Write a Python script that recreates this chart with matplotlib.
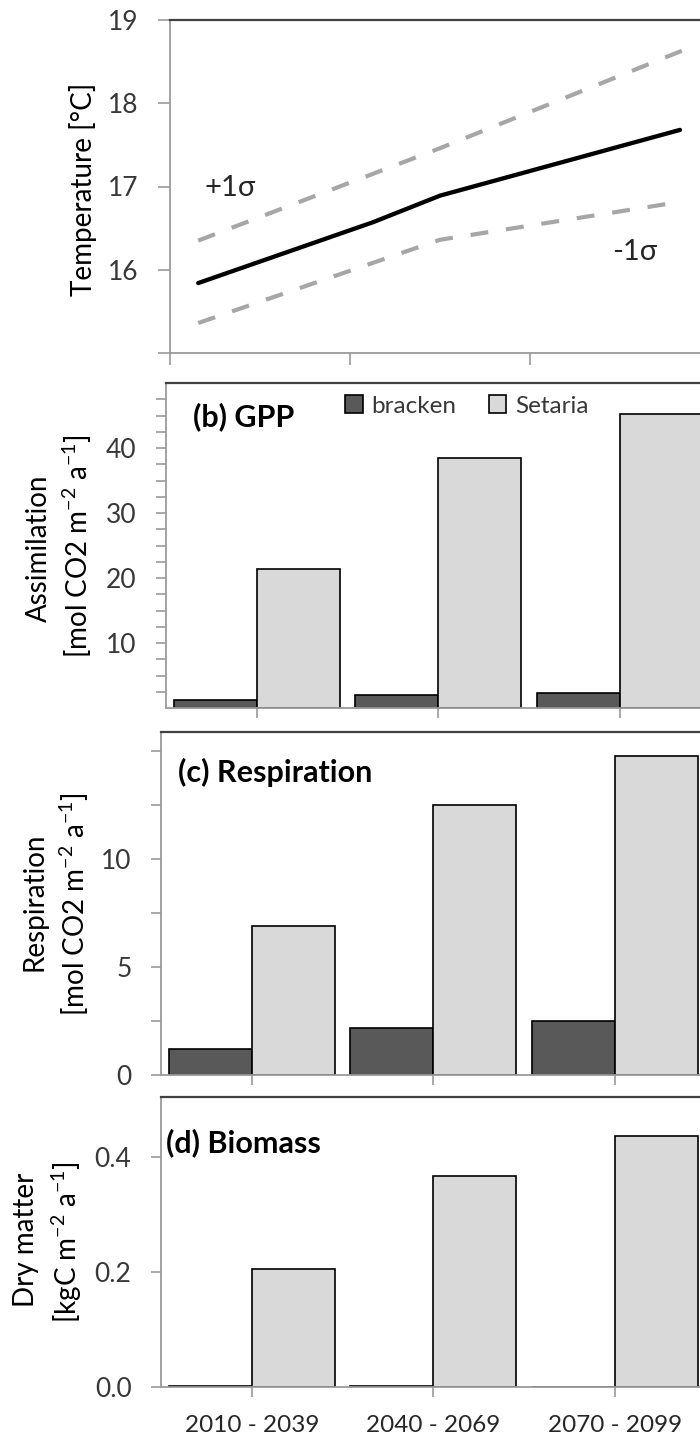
import matplotlib
matplotlib.use('Agg')
import matplotlib.pyplot as plt
from matplotlib.patches import Patch
from matplotlib.ticker import MultipleLocator, FixedLocator, FixedFormatter
import numpy as np

# ---------------- data ----------------
periods = ['2010 - 2039', '2040 - 2069', '2070 - 2099']

temp_years = [2014.7, 2043.8, 2055.0, 2095.0]
temp_mean = [15.84, 16.57, 16.89, 17.68]
upper_years = [2014.7, 2055.0, 2095.3]
temp_upper = [16.35, 17.46, 18.63]
lower_years = [2014.7, 2055.0, 2093.7]
temp_lower = [15.36, 16.36, 16.80]

gpp_bracken = [1.2, 2.0, 2.35]
gpp_setaria = [21.4, 38.4, 45.2]
resp_bracken = [1.2, 2.2, 2.5]
resp_setaria = [6.93, 12.5, 14.8]
bio_bracken = [0.002, 0.002, 0.0]
bio_setaria = [0.205, 0.367, 0.437]

series_names = ['bracken', 'Setaria']

# ---------------- style ----------------
plt.rcParams['font.family'] = ['Lato', 'DejaVu Sans']
plt.rcParams['mathtext.default'] = 'regular'

W, H, DPI = 700, 1436, 100
C_BR = '#595959'
C_SE = '#d9d9d9'
TICK_C = '#383838'
SPINE_LIGHT = '#9a9a9a'
SPINE_DARK = '#404040'
TICK_FS = 19
LAB_FS = 20
TITLE_FS = 22

fig = plt.figure(figsize=(W / DPI, H / DPI), dpi=DPI)
fig.patch.set_facecolor('white')


def add_ax(left, right, top, bottom):
    return fig.add_axes([left / W, 1 - bottom / H, (right - left) / W, (bottom - top) / H])


def style_ax(ax, ticklen=10):
    ax.spines['right'].set_visible(False)
    ax.spines['top'].set_color(SPINE_DARK)
    ax.spines['top'].set_linewidth(1.6)
    for s in ('left', 'bottom'):
        ax.spines[s].set_color(SPINE_LIGHT)
        ax.spines[s].set_linewidth(1.3)
    ax.tick_params(axis='both', which='both', direction='out', length=ticklen * 0.72,
                   width=1.2, color=SPINE_LIGHT, labelcolor=TICK_C, labelsize=TICK_FS)
    ax.tick_params(axis='y', which='both', pad=14)
    ax.tick_params(axis='x', which='both', pad=13)
    ax.set_facecolor('white')


# ---------------- panel (a) ----------------
ax_a = add_ax(170, 710, 20, 353)
style_ax(ax_a, ticklen=12)
ax_a.plot(upper_years, temp_upper, color='#a6a6a6', lw=3.0, dashes=(4.3, 4.3))
ax_a.plot(lower_years, temp_lower, color='#a6a6a6', lw=3.0, dashes=(4.3, 4.3))
ax_a.plot(temp_years, temp_mean, color='black', lw=3.1, solid_capstyle='round')
ax_a.set_xlim(2010, 2100)
ax_a.set_ylim(15, 19)
ax_a.xaxis.set_major_locator(FixedLocator([2010, 2040, 2070, 2100]))
ax_a.xaxis.set_major_formatter(FixedFormatter(['', '', '', '']))
ax_a.yaxis.set_major_locator(FixedLocator([15, 16, 17, 18, 19]))
ax_a.yaxis.set_major_formatter(FixedFormatter(['', '16', '17', '18', '19']))
ax_a.text(2015.8, 16.98, '+1σ', fontsize=21, color='#262626', ha='left', va='center')
ax_a.text(2083.7, 16.21, '-1σ', fontsize=21, color='#262626', ha='left', va='center')

# ---------------- bar panels ----------------
x = np.arange(len(periods))
bw = 0.457


def bars(ax, br, se):
    ax.bar(x - bw / 2, br, bw, color=C_BR, edgecolor='black', linewidth=1.2, label=series_names[0])
    ax.bar(x + bw / 2, se, bw, color=C_SE, edgecolor='black', linewidth=1.2, label=series_names[1])
    ax.set_xlim(-0.5, 2.5)
    ax.set_xticks(x)


ax_b = add_ax(166, 166 + 3 * 181.5, 383, 708)
style_ax(ax_b)
bars(ax_b, gpp_bracken, gpp_setaria)
ax_b.set_ylim(0, 50)
ax_b.yaxis.set_major_locator(FixedLocator([10, 20, 30, 40]))
ax_b.yaxis.set_minor_locator(FixedLocator([2.5 * k for k in range(1, 20)]))
ax_b.set_xticklabels([])

ax_c = add_ax(161, 161 + 3 * 181.5, 732, 1075)
style_ax(ax_c)
bars(ax_c, resp_bracken, resp_setaria)
ax_c.set_ylim(0, 15.9)
ax_c.yaxis.set_major_locator(FixedLocator([0, 5, 10]))
ax_c.yaxis.set_minor_locator(MultipleLocator(2.5))
ax_c.set_xticklabels([])

ax_d = add_ax(161, 161 + 3 * 181.5, 1097, 1387)
style_ax(ax_d)
bars(ax_d, bio_bracken, bio_setaria)
ax_d.set_ylim(0, 0.505)
ax_d.yaxis.set_major_locator(FixedLocator([0.0, 0.2, 0.4]))
ax_d.yaxis.set_major_formatter(FixedFormatter(['0.0', '0.2', '0.4']))
ax_d.set_xticklabels(periods, fontsize=17.5, color='#262626')

# panel titles
ax_b.text(193 / W, 1 - 417 / H, '(b) GPP', transform=fig.transFigure, fontsize=TITLE_FS,
          fontweight='bold', ha='left', va='center', color='black')
ax_c.text(178 / W, 1 - 772 / H, '(c) Respiration', transform=fig.transFigure, fontsize=TITLE_FS,
          fontweight='bold', ha='left', va='center', color='black')
ax_d.text(166 / W, 1 - 1143 / H, '(d) Biomass', transform=fig.transFigure, fontsize=TITLE_FS,
          fontweight='bold', ha='left', va='center', color='black')

# legend
handles = [Patch(facecolor=C_BR, edgecolor='black', linewidth=1.2, label=series_names[0]),
           Patch(facecolor=C_SE, edgecolor='black', linewidth=1.2, label=series_names[1])]
ax_b.legend(handles=handles, ncol=2, frameon=False, loc='center left',
            bbox_to_anchor=(345 / W, 1 - 406 / H), bbox_transform=fig.transFigure,
            handlelength=0.72, handleheight=0.72, handletextpad=0.35, columnspacing=1.35,
            borderpad=0, borderaxespad=0, fontsize=17.5, labelcolor=TICK_C)

# y labels


def ylab(xp, yp, s):
    fig.text(xp / W, 1 - yp / H, s, rotation=90, ha='center', va='center',
             fontsize=LAB_FS, color='black')


ylab(83, 189, 'Temperature [°C]')
ylab(39, 548, 'Assimilation')
ylab(77, 546, '[mol CO2 m$^{-2}$ a$^{-1}$]')
ylab(34, 902, 'Respiration')
ylab(74, 904, '[mol CO2 m$^{-2}$ a$^{-1}$]')
ylab(26, 1240, 'Dry matter')
ylab(67, 1242, '[kgC m$^{-2}$ a$^{-1}$]')

fig.savefig('out.png', dpi=DPI, facecolor='white')
